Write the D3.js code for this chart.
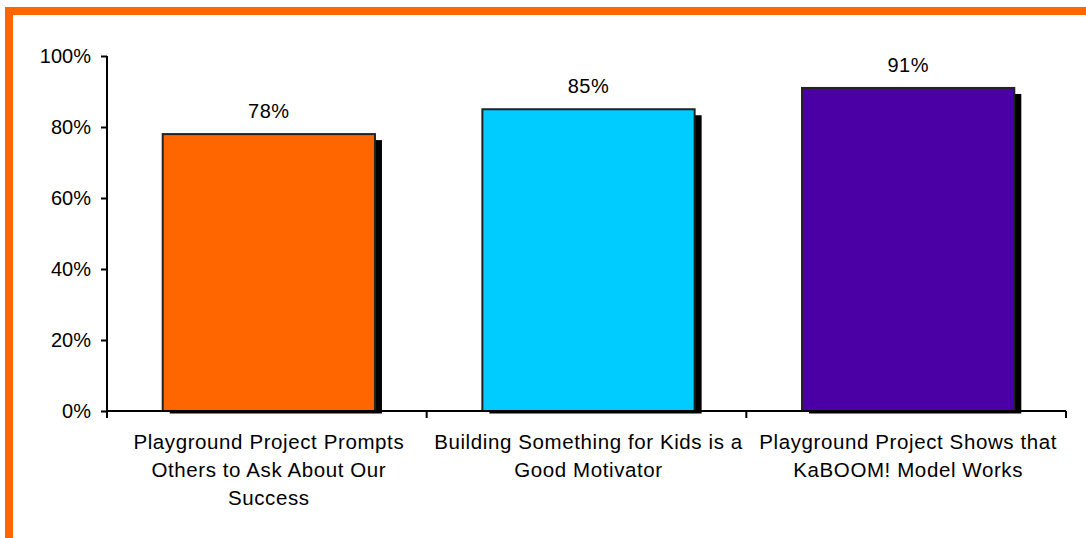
<!DOCTYPE html>
<html>
<head>
<meta charset="utf-8">
<script src="https://cdn.jsdelivr.net/npm/d3@7"></script>
<style>
  body { margin: 0; background: #fff; }
  text { font-family: "Liberation Sans", Arial, sans-serif; fill: #000; }
</style>
</head>
<body>
<div id="chart"></div>
<script>
// data
const categories = [
  "Playground Project Prompts|Others to Ask About Our|Success",
  "Building Something for Kids is a|Good Motivator",
  "Playground Project Shows that|KaBOOM! Model Works"
];
const values = [0.78, 0.85, 0.91];
const colors = ["#FF6600", "#00CCFF", "#4B00A5"];
const yTicks = [0, 0.2, 0.4, 0.6, 0.8, 1];

const width = 1086;
const height = 538;
const margin = { top: 56, right: 20, bottom: 127, left: 107 };

const svg = d3.select("#chart").append("svg")
  .attr("width", width)
  .attr("height", height);

// orange frame, top and left only
svg.append("rect").attr("x", 5).attr("y", 7).attr("width", width - 5).attr("height", 8).attr("fill", "#FF6600");
svg.append("rect").attr("x", 5).attr("y", 7).attr("width", 8).attr("height", height - 7).attr("fill", "#FF6600");

const x = d3.scaleBand()
  .domain(categories)
  .range([margin.left, 1066])
  .paddingInner(0.336)
  .paddingOuter(0.168);

const y = d3.scaleLinear()
  .domain([0, 1])
  .range([411, margin.top]);

// bars sit a touch right of band centre in the original
const g = svg.append("g").attr("transform", "translate(2,0)");

// shadows first
g.selectAll(".shadow")
  .data(values)
  .enter()
  .append("rect")
  .attr("class", "shadow")
  .attr("x", (d, i) => x(categories[i]) + 7)
  .attr("y", d => y(d) + 6)
  .attr("width", x.bandwidth())
  .attr("height", d => y(0) - y(d) - 3.5)
  .attr("fill", "#000");

g.selectAll(".bar")
  .data(values)
  .enter()
  .append("rect")
  .attr("class", "bar")
  .attr("x", (d, i) => x(categories[i]))
  .attr("y", d => y(d))
  .attr("width", x.bandwidth())
  .attr("height", d => y(0) - y(d))
  .attr("fill", (d, i) => colors[i])
  .attr("stroke", "#222")
  .attr("stroke-width", 2);

// value labels
g.selectAll(".val")
  .data(values)
  .enter()
  .append("text")
  .attr("class", "val")
  .attr("x", (d, i) => x(categories[i]) + x.bandwidth() / 2)
  .attr("y", d => y(d) - 16)
  .attr("text-anchor", "middle")
  .style("font-size", "20px")
  .style("letter-spacing", "0.5px")
  .text(d => Math.round(d * 100) + "%");

// y axis
const yAxis = d3.axisLeft(y)
  .tickValues(yTicks)
  .tickSize(6)
  .tickPadding(10)
  .tickFormat(d3.format(".0%"));

const ya = svg.append("g")
  .attr("transform", "translate(" + margin.left + ",0)")
  .call(yAxis);
ya.select(".domain").attr("d", "M0," + y(1) + "V" + (y(0) + 7));
ya.selectAll("line").attr("stroke-width", 2);
ya.select(".domain").attr("stroke-width", 2);
ya.selectAll("text").style("font-size", "20px").attr("font-family", null);

// x axis with ticks at category boundaries
const step = x.step();
const bounds = [margin.left].concat(categories.map(c => x(c) - x.paddingInner() * step / 2 + step));
const xb = svg.append("g");
xb.append("line")
  .attr("x1", margin.left).attr("x2", bounds[bounds.length - 1])
  .attr("y1", y(0)).attr("y2", y(0))
  .attr("stroke", "#000").attr("stroke-width", 2);
xb.selectAll(".xt")
  .data(bounds.slice(1))
  .enter()
  .append("line")
  .attr("x1", d => d).attr("x2", d => d)
  .attr("y1", y(0)).attr("y2", y(0) + 7)
  .attr("stroke", "#000").attr("stroke-width", 2);

// category labels
const cat = svg.selectAll(".cat")
  .data(categories)
  .enter()
  .append("text")
  .attr("class", "cat")
  .attr("text-anchor", "middle")
  .style("font-size", "20.5px")
  .style("letter-spacing", "0.6px")
  .attr("transform", d => "translate(" + (x(d) + x.bandwidth() / 2 + 2) + ",449)");

cat.selectAll("tspan")
  .data(d => d.split("|"))
  .enter()
  .append("tspan")
  .attr("x", 0)
  .attr("y", (d, i) => i * 28)
  .text(d => d);
</script>
</body>
</html>
